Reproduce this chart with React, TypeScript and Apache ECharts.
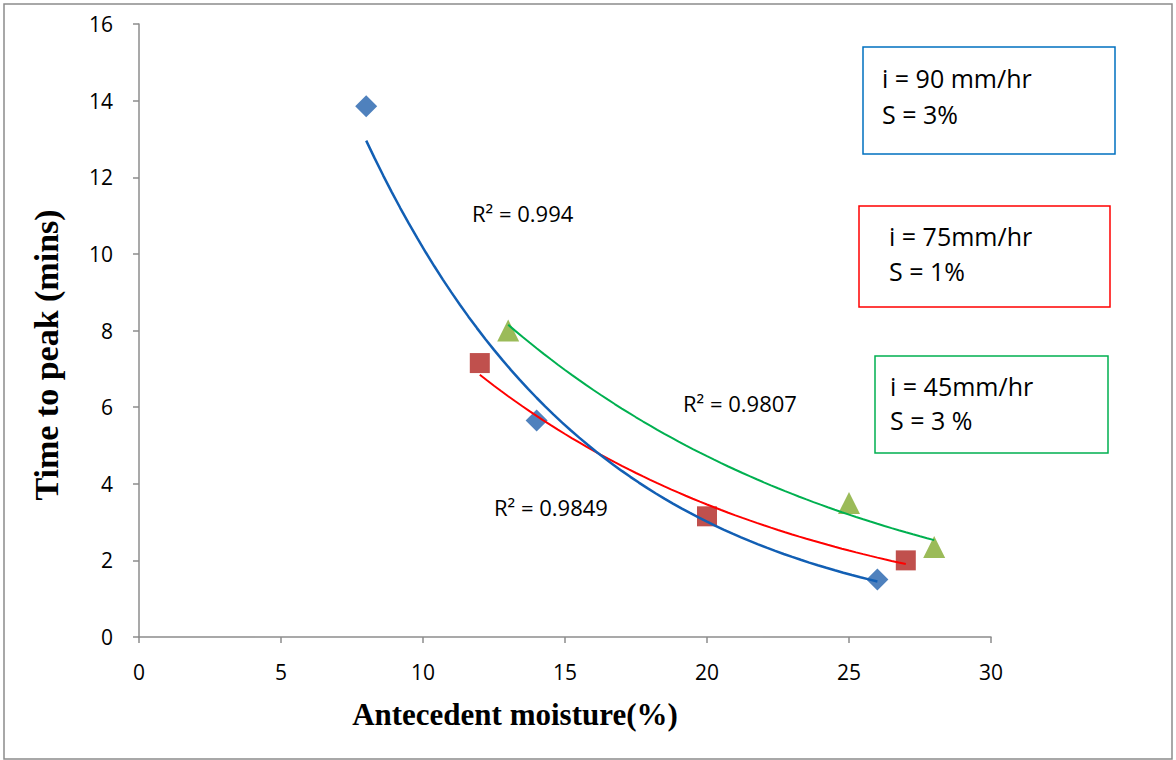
import React, { useEffect, useRef } from "react";
import * as echarts from "echarts";

const blueX = [8, 14, 26];
const blueY = [13.85, 5.65, 1.5];
const redX = [12, 20, 27];
const redY = [7.15, 3.15, 2.0];
const greenX = [13, 25, 28];
const greenY = [8.0, 3.5, 2.35];

const r2Labels = ["R² = 0.994", "R² = 0.9807", "R² = 0.9849"];
const boxTexts = [
  ["i = 90 mm/hr", "S = 3%"],
  ["i = 75mm/hr", "S = 1%"],
  ["i = 45mm/hr", "S = 3 %"],
];

function expFit(xs: number[], ys: number[]) {
  const n = xs.length;
  const ls = ys.map((y) => Math.log(y));
  const mx = xs.reduce((a, b) => a + b, 0) / n;
  const ml = ls.reduce((a, b) => a + b, 0) / n;
  let sxx = 0, sxy = 0;
  for (let i = 0; i < n; i++) {
    sxx += (xs[i] - mx) ** 2;
    sxy += (xs[i] - mx) * (ls[i] - ml);
  }
  const b = sxy / sxx;
  const a = ml - b * mx;
  const x0 = Math.min(...xs), x1 = Math.max(...xs);
  const pts: number[][] = [];
  const steps = 60;
  for (let i = 0; i <= steps; i++) {
    const x = x0 + ((x1 - x0) * i) / steps;
    pts.push([x, Math.exp(a + b * x)]);
  }
  return pts;
}

const zip = (xs: number[], ys: number[]) => xs.map((x, i) => [x, ys[i]]);

export default function App() {
  const ref = useRef<HTMLDivElement>(null);
  useEffect(() => {
    const chart = echarts.init(ref.current!, null, { renderer: "svg" });
    const axisColor = "#8c8c8c";
    const sans = "'Open Sans', 'Liberation Sans', sans-serif";
    const serif = "'Liberation Serif', 'DejaVu Serif', serif";
    const txt = (x: number, y: number, text: string, size: number) => ({
      type: "text",
      x,
      y,
      style: { text, font: `${size}px ${sans}`, fill: "#000", verticalAlign: "middle" },
    });
    chart.setOption({
      animation: false,
      backgroundColor: "#ffffff",
      grid: { left: 139, top: 24, right: 185, bottom: 123 },
      xAxis: {
        type: "value",
        min: 0,
        max: 30,
        interval: 5,
        splitLine: { show: false },
        axisLine: { lineStyle: { color: axisColor, width: 1.5 } },
        axisTick: { show: true, length: 6, lineStyle: { color: axisColor, width: 1.5 } },
        axisLabel: { color: "#000", fontSize: 21, fontFamily: sans, margin: 24 },
      },
      yAxis: {
        type: "value",
        min: 0,
        max: 16,
        interval: 2,
        splitLine: { show: false },
        axisLine: { show: true, lineStyle: { color: axisColor, width: 1.5 } },
        axisTick: { show: true, length: 6, lineStyle: { color: axisColor, width: 1.5 } },
        axisLabel: { color: "#000", fontSize: 21, fontFamily: sans, margin: 26 },
      },
      series: [
        {
          type: "scatter",
          data: zip(blueX, blueY),
          symbol: "diamond",
          symbolSize: 22,
          itemStyle: { color: "#4F81BD", opacity: 1 },
          z: 2,
        },
        {
          type: "scatter",
          data: zip(redX, redY),
          symbol: "rect",
          symbolSize: 20,
          itemStyle: { color: "#C0504D", opacity: 1 },
          z: 3,
        },
        {
          type: "scatter",
          data: zip(greenX, greenY),
          symbol: "triangle",
          symbolSize: 22,
          itemStyle: { color: "#9BBB59", opacity: 1 },
          z: 3,
        },
        {
          type: "line",
          data: expFit(greenX, greenY),
          showSymbol: false,
          lineStyle: { color: "#00B050", width: 2 },
          z: 4,
        },
        {
          type: "line",
          data: expFit(redX, redY),
          showSymbol: false,
          lineStyle: { color: "#FF0000", width: 2 },
          z: 4,
        },
        {
          type: "line",
          data: expFit(blueX, blueY),
          showSymbol: false,
          lineStyle: { color: "#125FB4", width: 2.5 },
          z: 5,
        },
      ],
      graphic: [
        {
          type: "rect",
          shape: { x: 4, y: 4, width: 1168, height: 755 },
          style: { fill: "none", stroke: "#8c8c8c", lineWidth: 1.5 },
          silent: true,
        },
        {
          type: "text",
          x: 46,
          y: 355,
          rotation: Math.PI / 2,
          style: {
            text: "Time to peak (mins)",
            font: `bold 34px ${serif}`,
            fill: "#000",
            align: "center",
            verticalAlign: "middle",
          },
        },
        {
          type: "text",
          x: 515,
          y: 714,
          style: {
            text: "Antecedent moisture(%)",
            font: `bold 31px ${serif}`,
            fill: "#000",
            align: "center",
            verticalAlign: "middle",
          },
        },
        txt(472, 213, r2Labels[0], 22),
        txt(683, 403, r2Labels[1], 22),
        txt(494, 507, r2Labels[2], 22),
        {
          type: "rect",
          shape: { x: 863, y: 47, width: 252, height: 107 },
          style: { fill: "#fff", stroke: "#0070C0", lineWidth: 1.5 },
        },
        txt(882, 78, boxTexts[0][0], 25),
        txt(882, 114, boxTexts[0][1], 25),
        {
          type: "rect",
          shape: { x: 859, y: 206, width: 251, height: 101 },
          style: { fill: "#fff", stroke: "#FF0000", lineWidth: 1.5 },
        },
        txt(889, 236, boxTexts[1][0], 25),
        txt(889, 271, boxTexts[1][1], 25),
        {
          type: "rect",
          shape: { x: 875, y: 356, width: 233, height: 97 },
          style: { fill: "#fff", stroke: "#00B050", lineWidth: 1.5 },
        },
        txt(890, 386, boxTexts[2][0], 25),
        txt(890, 420, boxTexts[2][1], 25),
      ],
    });
    return () => chart.dispose();
  }, []);
  return (
    <div
      ref={ref}
      style={{ position: "absolute", left: 0, top: 0, width: 1176, height: 760 }}
    />
  );
}
